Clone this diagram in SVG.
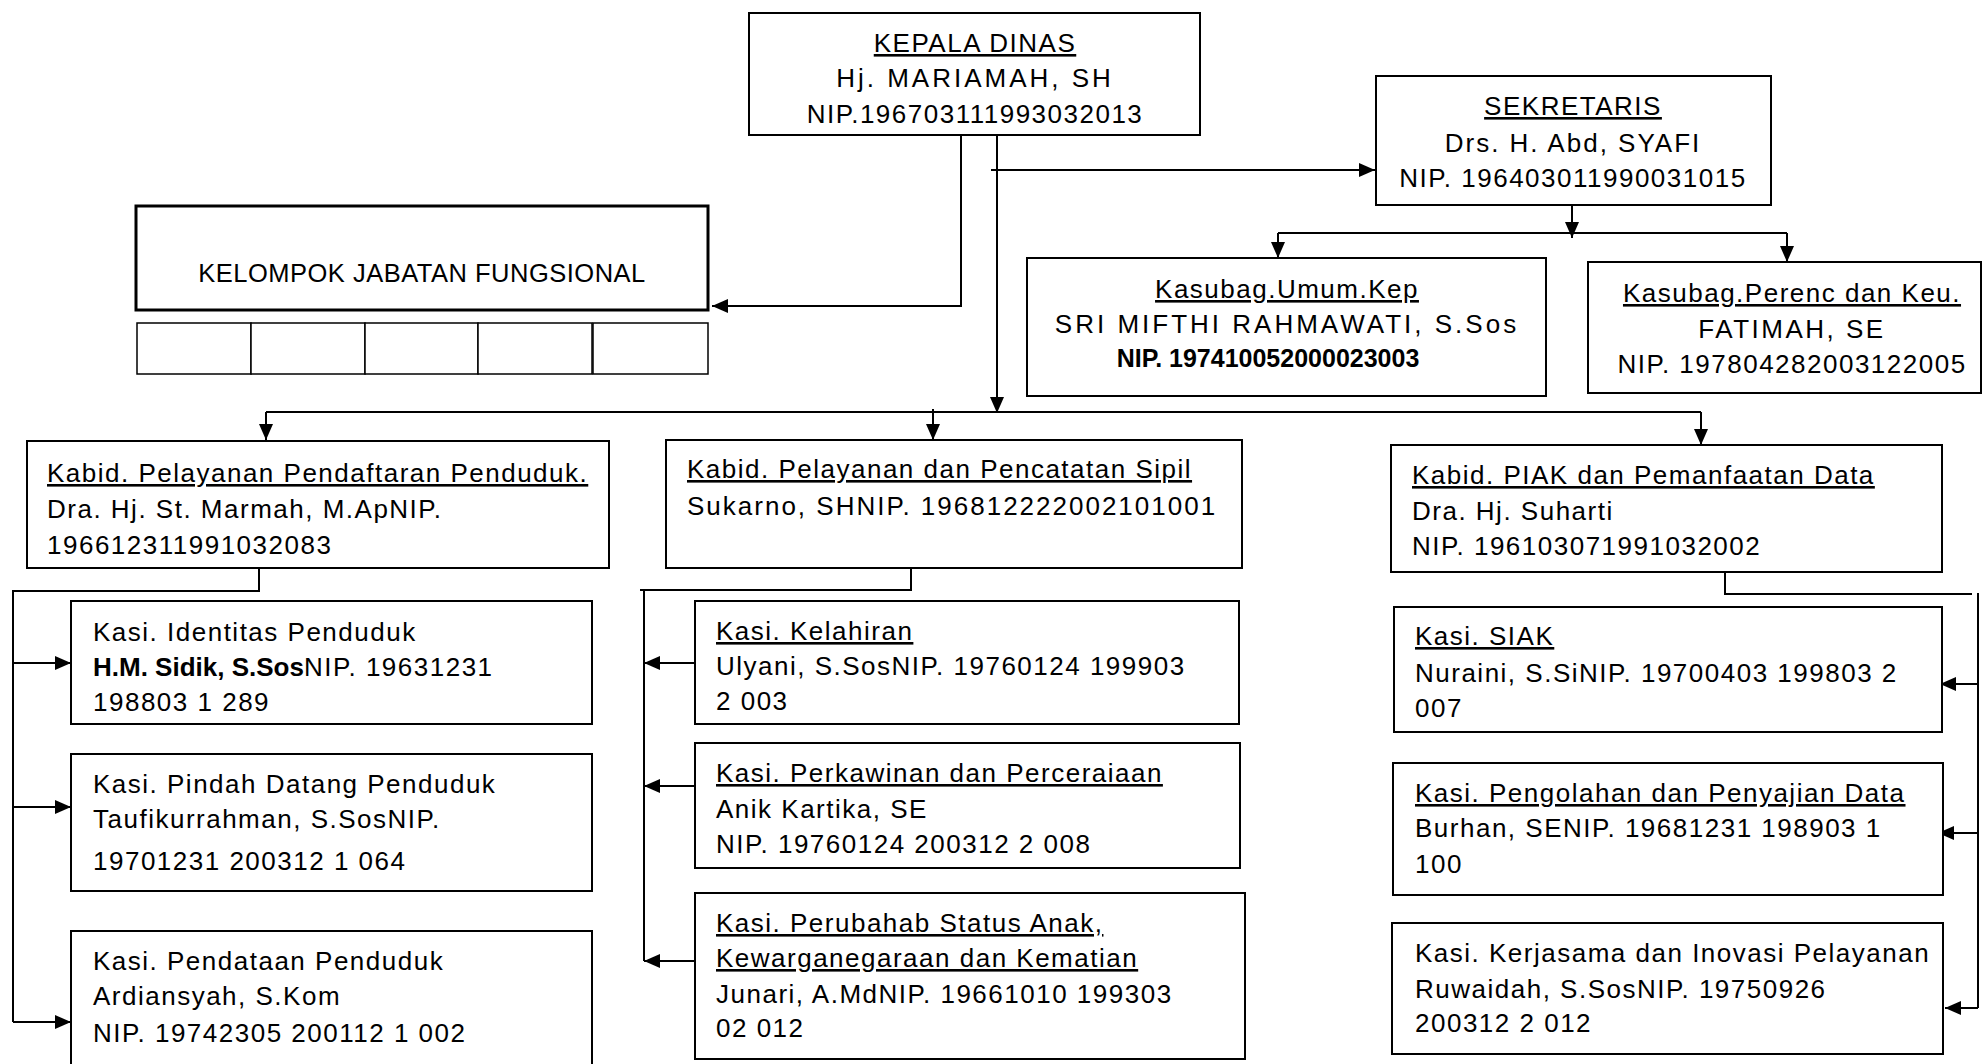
<svg xmlns="http://www.w3.org/2000/svg" width="1983" height="1064" viewBox="0 0 1983 1064">
<style>
.bg{fill:#fff}
.box{fill:#fff;stroke:#000;stroke-width:2}
.thick{stroke-width:3}
.cell{fill:#fff;stroke:#000;stroke-width:1.5}
.t{font-family:"Liberation Sans",Arial,sans-serif;font-size:26px;letter-spacing:1.5px;fill:#000}
.c{text-anchor:middle}
.u{text-decoration:underline}
.plain{letter-spacing:0}
.wide{letter-spacing:3px}
.b{font-weight:bold;letter-spacing:0}
.conn path{stroke:#000;stroke-width:2;fill:none}
</style>
<defs>
<marker id="arr" markerUnits="userSpaceOnUse" markerWidth="16" markerHeight="14" refX="16" refY="7" orient="auto">
<path d="M0,0 L16,7 L0,14 z" fill="#000"/>
</marker>
</defs>
<rect class="bg" x="0" y="0" width="1983" height="1064"/>

<g id="connectors" class="conn">
<path d="M991,170 H1375" marker-end="url(#arr)"/>
<path d="M961,135 V306 H712" marker-end="url(#arr)"/>
<path d="M997,135 V413" marker-end="url(#arr)"/>
<path d="M266,412 H1701"/>
<path d="M266,412 V440" marker-end="url(#arr)"/>
<path d="M933,409 V440" marker-end="url(#arr)"/>
<path d="M1701,412 V445" marker-end="url(#arr)"/>
<path d="M1572,205 V238" marker-end="url(#arr)"/>
<path d="M1278,233 H1787"/>
<path d="M1278,233 V258" marker-end="url(#arr)"/>
<path d="M1787,233 V262" marker-end="url(#arr)"/>
<path d="M259,569 V591 H13 V1022"/>
<path d="M13,663 H71" marker-end="url(#arr)"/>
<path d="M13,807 H71" marker-end="url(#arr)"/>
<path d="M13,1022 H71" marker-end="url(#arr)"/>
<path d="M911,567 V590 H640"/>
<path d="M644,590 V961"/>
<path d="M695,663 H644" marker-end="url(#arr)"/>
<path d="M702,786 H644" marker-end="url(#arr)"/>
<path d="M702,961 H644" marker-end="url(#arr)"/>
<path d="M1725,572 V594 H1972"/>
<path d="M1978,593 V1008"/>
<path d="M1977,684 H1940" marker-end="url(#arr)"/>
<path d="M1978,833 H1938" marker-end="url(#arr)"/>
<path d="M1978,1008 H1945" marker-end="url(#arr)"/>
</g>

<g id="kepala-dinas">
<rect class="box" x="749" y="13" width="451" height="122"/>
<text class="t c u" x="975" y="52">KEPALA DINAS</text>
<text class="t c wide" x="975" y="87">Hj. MARIAMAH, SH</text>
<text class="t c" x="975" y="123">NIP.196703111993032013</text>
</g>

<g id="sekretaris">
<rect class="box" x="1376" y="76" width="395" height="129"/>
<text class="t c u" x="1573" y="115">SEKRETARIS</text>
<text class="t c" x="1573" y="152" style="letter-spacing:2px">Drs. H. Abd, SYAFI</text>
<text class="t c" x="1573" y="187">NIP. 196403011990031015</text>
</g>

<g id="kelompok-jabatan-fungsional">
<rect class="box thick" x="136" y="206" width="572" height="104"/>
<text class="t c" x="422" y="282" style="font-size:25.5px;letter-spacing:0.5px">KELOMPOK JABATAN FUNGSIONAL</text>
<rect class="cell" x="137" y="323" width="114" height="51"/>
<rect class="cell" x="251" y="323" width="114" height="51"/>
<rect class="cell" x="365" y="323" width="113" height="51"/>
<rect class="cell" x="478" y="323" width="114" height="51"/>
<rect class="cell" x="593" y="323" width="115" height="51"/>
</g>

<g id="kasubag-umum">
<rect class="box" x="1027" y="258" width="519" height="138"/>
<text class="t c u" x="1287" y="298">Kasubag.Umum.Kep</text>
<text class="t c wide" x="1287" y="333">SRI MIFTHI RAHMAWATI, S.Sos</text>
<text class="t c plain" x="1268" y="367" style="font-weight:600;font-size:25px">NIP. 197410052000023003</text>
</g>

<g id="kasubag-perenc">
<rect class="box" x="1588" y="262" width="393" height="131"/>
<text class="t c u" x="1792" y="302">Kasubag.Perenc dan Keu.</text>
<text class="t c" x="1792" y="338" style="letter-spacing:2.5px">FATIMAH, SE</text>
<text class="t c" x="1792" y="373">NIP. 197804282003122005</text>
</g>

<g id="kabid-pendaftaran">
<rect class="box" x="27" y="441" width="582" height="127"/>
<text class="t u" x="47" y="482">Kabid. Pelayanan Pendaftaran Penduduk.</text>
<text class="t" x="47" y="518">Dra. Hj. St. Marmah, M.ApNIP.</text>
<text class="t" x="47" y="554">196612311991032083</text>
</g>

<g id="kabid-capil">
<rect class="box" x="666" y="440" width="576" height="128"/>
<text class="t u" x="687" y="478">Kabid. Pelayanan dan Pencatatan Sipil</text>
<text class="t" x="687" y="515" style="letter-spacing:2px">Sukarno, SHNIP. 196812222002101001</text>
</g>

<g id="kabid-piak">
<rect class="box" x="1391" y="445" width="551" height="127"/>
<text class="t u" x="1412" y="484">Kabid. PIAK dan Pemanfaatan Data</text>
<text class="t" x="1412" y="520">Dra. Hj. Suharti</text>
<text class="t" x="1412" y="555">NIP. 196103071991032002</text>
</g>

<g id="kasi-identitas">
<rect class="box" x="71" y="601" width="521" height="123"/>
<text class="t" x="93" y="641">Kasi. Identitas Penduduk</text>
<text class="t" x="93" y="676"><tspan class="b">H.M. Sidik, S.Sos</tspan>NIP. 19631231</text>
<text class="t" x="93" y="711">198803 1 289</text>
</g>

<g id="kasi-pindah">
<rect class="box" x="71" y="754" width="521" height="137"/>
<text class="t" x="93" y="793">Kasi. Pindah Datang Penduduk</text>
<text class="t" x="93" y="828">Taufikurrahman, S.SosNIP.</text>
<text class="t" x="93" y="870">19701231 200312 1 064</text>
</g>

<g id="kasi-pendataan">
<rect class="box" x="71" y="931" width="521" height="140"/>
<text class="t" x="93" y="970">Kasi. Pendataan Penduduk</text>
<text class="t" x="93" y="1005">Ardiansyah, S.Kom</text>
<text class="t" x="93" y="1042">NIP. 19742305 200112 1 002</text>
</g>

<g id="kasi-kelahiran">
<rect class="box" x="695" y="601" width="544" height="123"/>
<text class="t u" x="716" y="640">Kasi. Kelahiran</text>
<text class="t" x="716" y="675">Ulyani, S.SosNIP. 19760124 199903</text>
<text class="t" x="716" y="710">2 003</text>
</g>

<g id="kasi-perkawinan">
<rect class="box" x="695" y="743" width="545" height="125"/>
<text class="t u" x="716" y="782">Kasi. Perkawinan dan Perceraiaan</text>
<text class="t" x="716" y="818">Anik Kartika, SE</text>
<text class="t" x="716" y="853">NIP. 19760124 200312 2 008</text>
</g>

<g id="kasi-perubahan">
<rect class="box" x="695" y="893" width="550" height="166"/>
<text class="t u" x="716" y="932">Kasi. Perubahab Status Anak,</text>
<text class="t u" x="716" y="967">Kewarganegaraan dan Kematian</text>
<text class="t" x="716" y="1003">Junari, A.MdNIP. 19661010 199303</text>
<text class="t" x="716" y="1037">02 012</text>
</g>

<g id="kasi-siak">
<rect class="box" x="1394" y="607" width="548" height="125"/>
<text class="t u" x="1415" y="645">Kasi. SIAK</text>
<text class="t" x="1415" y="682">Nuraini, S.SiNIP. 19700403 199803 2</text>
<text class="t" x="1415" y="717">007</text>
</g>

<g id="kasi-pengolahan">
<rect class="box" x="1393" y="763" width="550" height="132"/>
<text class="t u" x="1415" y="802">Kasi. Pengolahan dan Penyajian Data</text>
<text class="t" x="1415" y="837">Burhan, SENIP. 19681231 198903 1</text>
<text class="t" x="1415" y="873">100</text>
</g>

<g id="kasi-kerjasama">
<rect class="box" x="1392" y="923" width="551" height="131"/>
<text class="t" x="1415" y="962">Kasi. Kerjasama dan Inovasi Pelayanan</text>
<text class="t" x="1415" y="998">Ruwaidah, S.SosNIP. 19750926</text>
<text class="t" x="1415" y="1032">200312 2 012</text>
</g>
</svg>
